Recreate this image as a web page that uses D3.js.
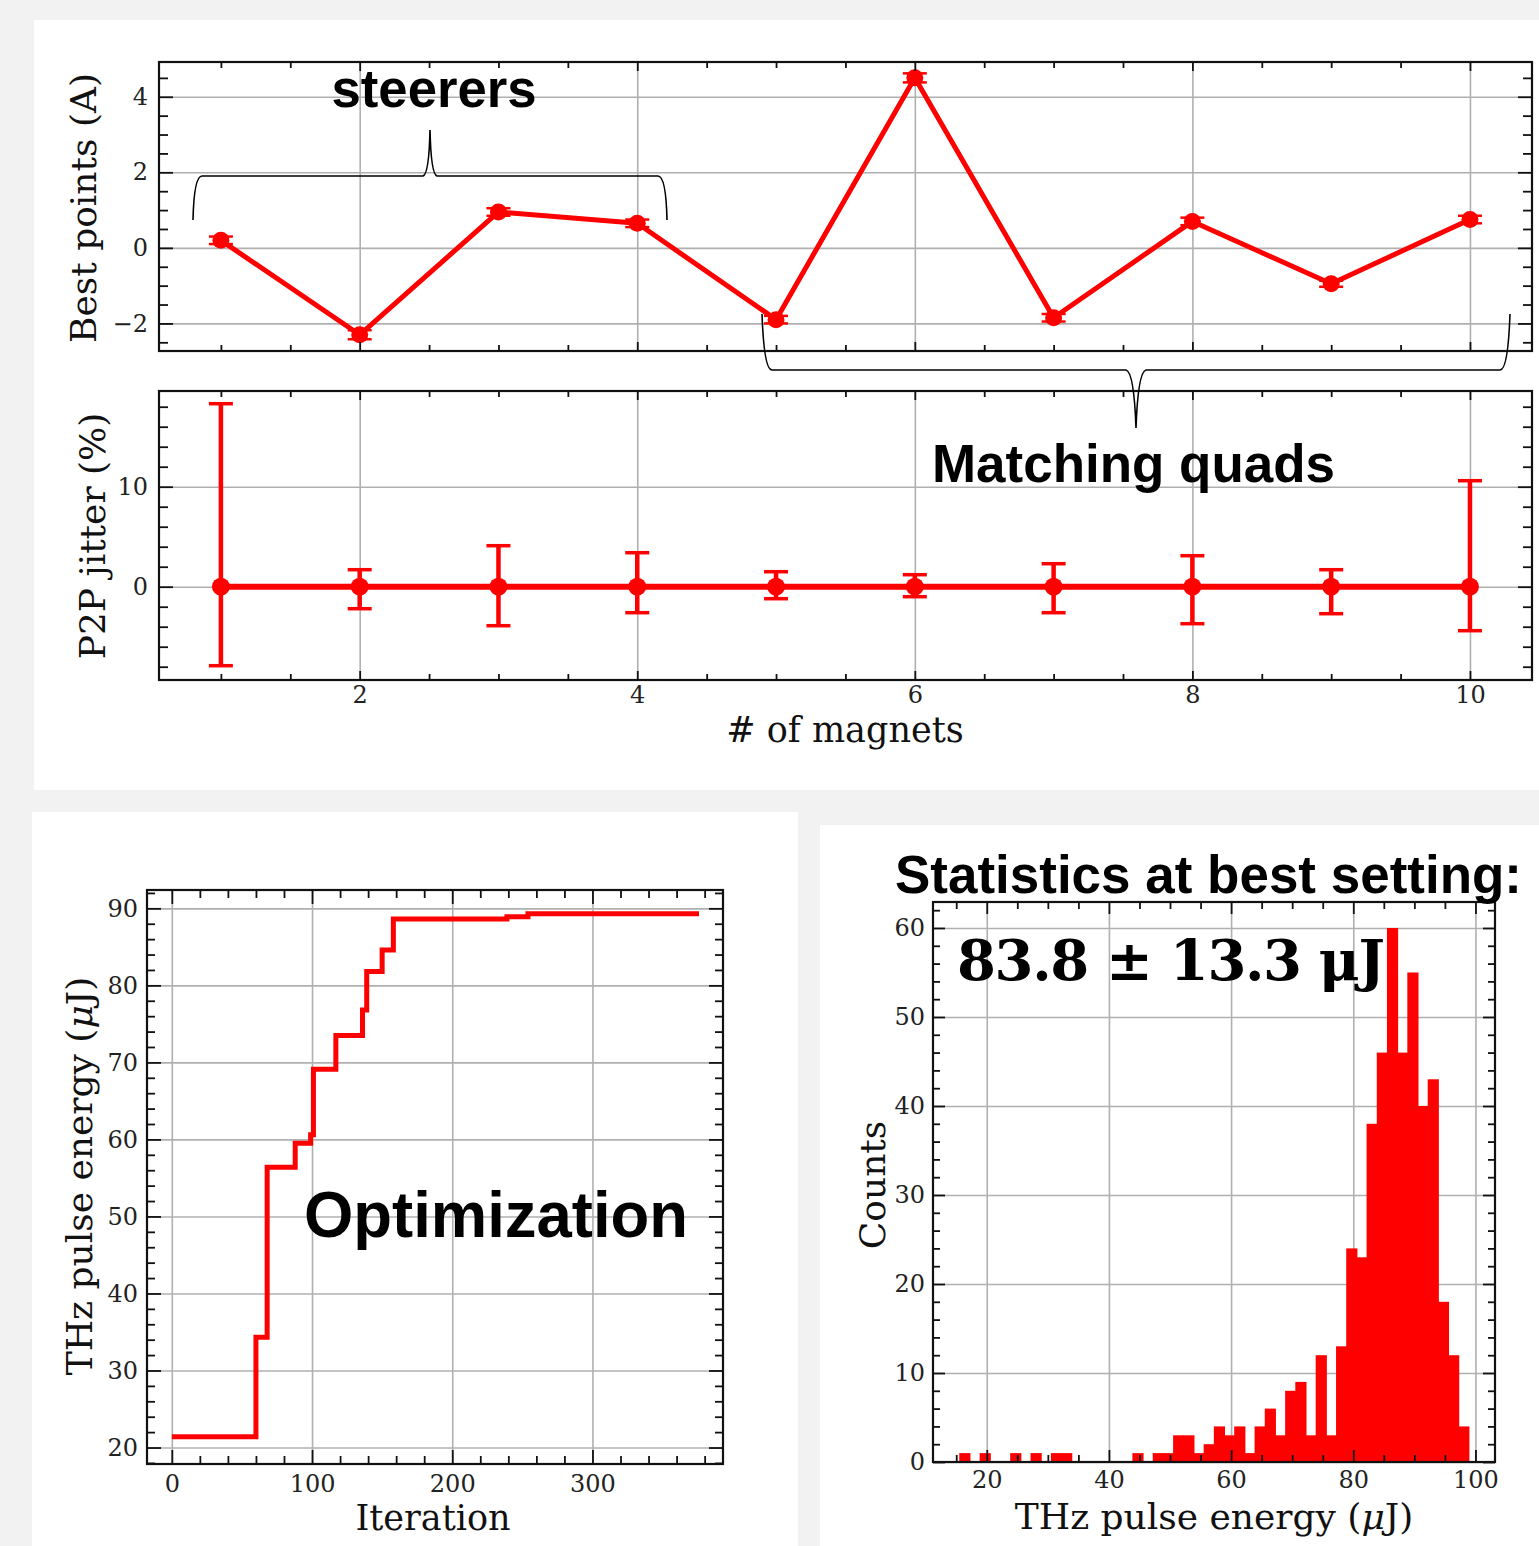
<!DOCTYPE html>
<html>
<head>
<meta charset="utf-8">
<script src="https://cdn.jsdelivr.net/npm/d3@7"></script>
<style>
  body { margin: 0; background: #f2f2f2; }
  svg { display: block; }
</style>
</head>
<body>
<div id="chart"></div>
<script>
// Data: best points per magnet
const magnets = [1, 2, 3, 4, 5, 6, 7, 8, 9, 10];
const bestPoints = [0.2, -2.3, 0.95, 0.65, -1.9, 4.5, -1.85, 0.7, -0.95, 0.75];
const bestPointsErr = [0.1, 0.12, 0.1, 0.1, 0.1, 0.12, 0.1, 0.1, 0.08, 0.1];

// Data: P2P jitter per magnet
const jitter = [0, 0, 0, 0, 0, 0, 0, 0, 0, 0];
const jitterErrUp = [18.3, 1.7, 4.1, 3.4, 1.5, 1.2, 2.3, 3.1, 1.7, 10.6];
const jitterErrDown = [7.9, 2.2, 3.9, 2.6, 1.2, 1.0, 2.6, 3.7, 2.7, 4.4];

// Data: optimization trace (step after)
const iterations = [0, 60, 68, 88, 99, 101, 117, 136, 139, 150, 158, 239, 254, 376];
const pulseEnergy = [21.4, 34.3, 56.4, 59.5, 60.6, 69.1, 73.5, 76.8, 81.8, 84.6, 88.6, 88.9, 89.3, 89.3];

// Data: histogram at best setting (50 equal bins)
const histMin = 15.5;
const histMax = 98.85;
const histCounts = [
  1, 0, 1, 0, 0, 1, 0, 1, 0, 1,
  1, 0, 0, 0, 0, 0, 0, 1, 0, 1,
  1, 3, 3, 1, 2, 4, 3, 4, 1, 4,
  6, 3, 8, 9, 3, 12, 3, 13, 24, 23,
  38, 46, 60, 46, 55, 40, 43, 18, 12, 4,
];

// Tick labels
const magnetTicks = [2, 4, 6, 8, 10];
const bestTicks = [-2, 0, 2, 4];
const jitterTicks = [0, 10];
const iterTicks = [0, 100, 200, 300];
const energyTicks = [20, 30, 40, 50, 60, 70, 80, 90];
const histXTicks = [20, 40, 60, 80, 100];
const histYTicks = [0, 10, 20, 30, 40, 50, 60];

// Styles
const SERIF = "'DejaVu Serif', serif";
const SANS = "'Liberation Sans', Arial, sans-serif";
const RED = "#ff0000";
const GRID = "#b0b0b0";
const INK = "#111";

const W = 1539;
const H = 1546;

const svg = d3
  .select("#chart")
  .append("svg")
  .attr("width", W)
  .attr("height", H);

svg.append("rect").attr("width", W).attr("height", H).attr("fill", "#f2f2f2");

// White panels behind each figure
const panels = [
  [34, 20, 1505, 770],
  [32, 812, 766, 734],
  [820, 825, 719, 721],
];
panels.forEach(([x, y, w, h]) =>
  svg.append("rect").attr("x", x).attr("y", y).attr("width", w).attr("height", h).attr("fill", "#fff"),
);

// Helpers
const minorsOf = (start, stop, step, majors) =>
  d3.range(start, stop + step / 2, step).filter((v) => !majors.some((m) => Math.abs(m - v) < 1e-6));

const addTicks = (g, axisFn, scale, transform, values, size, labelled, pad) => {
  const ax = axisFn(scale)
    .tickValues(values)
    .tickSizeInner(-size)
    .tickSizeOuter(0)
    .tickPadding(pad || 0)
    .tickFormat(labelled ? d3.format("d") : "");
  const sel = g.append("g").attr("transform", transform).call(ax);
  sel.select(".domain").remove();
  sel.selectAll("line").attr("stroke", INK).attr("stroke-width", 1.8);
  sel
    .selectAll("text")
    .attr("font-family", SERIF)
    .attr("font-size", 24)
    .attr("fill", "#222");
  return sel;
};

const addGrid = (g, x, y, w, h, xs, ys) => {
  const gx = g
    .append("g")
    .attr("transform", `translate(0,${h})`)
    .call(d3.axisBottom(x).tickValues(xs).tickSize(-h).tickFormat(""));
  gx.select(".domain").remove();
  gx.selectAll("line").attr("stroke", GRID).attr("stroke-width", 1.6);
  const gy = g.append("g").call(d3.axisLeft(y).tickValues(ys).tickSize(-w).tickFormat(""));
  gy.select(".domain").remove();
  gy.selectAll("line").attr("stroke", GRID).attr("stroke-width", 1.6);
};

// Draws ticks on all four sides, pointing inward, plus the frame
const addFrame = (g, x, y, w, h, c) => {
  addTicks(g, d3.axisBottom, x, `translate(0,${h})`, c.xMajor, c.xLen[0], c.xLabels, c.xPad);
  addTicks(g, d3.axisBottom, x, `translate(0,${h})`, c.xMinor, c.xLen[1], false);
  addTicks(g, d3.axisTop, x, "translate(0,0)", c.xMajor, c.xLen[0], false);
  addTicks(g, d3.axisTop, x, "translate(0,0)", c.xMinor, c.xLen[1], false);
  addTicks(g, d3.axisLeft, y, "translate(0,0)", c.yMajor, c.yLen[0], true, c.yPad);
  addTicks(g, d3.axisLeft, y, "translate(0,0)", c.yMinor, c.yLen[1], false);
  addTicks(g, d3.axisRight, y, `translate(${w},0)`, c.yMajor, c.yLen[0], false);
  addTicks(g, d3.axisRight, y, `translate(${w},0)`, c.yMinor, c.yLen[1], false);
  g.append("rect")
    .attr("width", w)
    .attr("height", h)
    .attr("fill", "none")
    .attr("stroke", INK)
    .attr("stroke-width", 2.2);
};

const addLabel = (x, y, text, rotate, family, size, weight) => {
  const t = svg
    .append("text")
    .attr("transform", `translate(${x},${y})${rotate ? " rotate(-90)" : ""}`)
    .attr("text-anchor", "middle")
    .attr("font-family", family || SERIF)
    .attr("font-size", size || 36)
    .attr("font-weight", weight || "normal")
    .attr("fill", "#111");
  return t.text(text);
};

const addEnergyLabel = (x, y, rotate) => {
  const t = addLabel(x, y, "", rotate);
  t.append("tspan").text("THz pulse energy (");
  t.append("tspan").attr("font-style", "italic").text("μ");
  t.append("tspan").text("J)");
};

// Panel 1: best points
const drawBestPoints = () => {
  const b = { x0: 159, x1: 1532, y0: 62, y1: 351 };
  const w = b.x1 - b.x0;
  const h = b.y1 - b.y0;
  const x = d3.scaleLinear().domain([0.554, 10.447]).range([0, w]);
  const y = d3.scaleLinear().domain([-2.73, 4.92]).range([h, 0]);
  const g = svg.append("g").attr("transform", `translate(${b.x0},${b.y0})`);

  addGrid(g, x, y, w, h, magnetTicks, bestTicks);

  const line = d3
    .line()
    .x((d, i) => x(magnets[i]))
    .y((d) => y(d));
  g.append("path")
    .datum(bestPoints)
    .attr("d", line)
    .attr("fill", "none")
    .attr("stroke", RED)
    .attr("stroke-width", 5)
    .attr("stroke-linejoin", "round");

  const pts = g.append("g").selectAll("g").data(bestPoints).join("g");
  pts
    .append("line")
    .attr("x1", (d, i) => x(magnets[i]))
    .attr("x2", (d, i) => x(magnets[i]))
    .attr("y1", (d, i) => y(d + bestPointsErr[i]))
    .attr("y2", (d, i) => y(d - bestPointsErr[i]))
    .attr("stroke", RED)
    .attr("stroke-width", 4);
  [1, -1].forEach((s) =>
    pts
      .append("line")
      .attr("x1", (d, i) => x(magnets[i]) - 12)
      .attr("x2", (d, i) => x(magnets[i]) + 12)
      .attr("y1", (d, i) => y(d + s * bestPointsErr[i]))
      .attr("y2", (d, i) => y(d + s * bestPointsErr[i]))
      .attr("stroke", RED)
      .attr("stroke-width", 2.5),
  );
  pts
    .append("circle")
    .attr("cx", (d, i) => x(magnets[i]))
    .attr("cy", (d) => y(d))
    .attr("r", 8.5)
    .attr("fill", RED);

  addFrame(g, x, y, w, h, {
    xMajor: magnetTicks,
    xMinor: minorsOf(1, 10, 0.5, magnetTicks),
    xLen: [9, 6],
    xLabels: false,
    yMajor: bestTicks,
    yMinor: minorsOf(-2.5, 4.5, 0.5, bestTicks),
    yLen: [14, 9],
    yPad: 11,
  });

  addLabel(96, 208, "Best points (A)", true);
};

// Panel 2: P2P jitter
const drawJitter = () => {
  const b = { x0: 159, x1: 1532, y0: 391, y1: 680 };
  const w = b.x1 - b.x0;
  const h = b.y1 - b.y0;
  const x = d3.scaleLinear().domain([0.554, 10.447]).range([0, w]);
  const y = d3.scaleLinear().domain([-9.33, 19.57]).range([h, 0]);
  const g = svg.append("g").attr("transform", `translate(${b.x0},${b.y0})`);

  addGrid(g, x, y, w, h, magnetTicks, jitterTicks);

  const line = d3
    .line()
    .x((d, i) => x(magnets[i]))
    .y((d) => y(d));
  g.append("path")
    .datum(jitter)
    .attr("d", line)
    .attr("fill", "none")
    .attr("stroke", RED)
    .attr("stroke-width", 6);

  const pts = g.append("g").selectAll("g").data(jitter).join("g");
  pts
    .append("line")
    .attr("x1", (d, i) => x(magnets[i]))
    .attr("x2", (d, i) => x(magnets[i]))
    .attr("y1", (d, i) => y(d + jitterErrUp[i]))
    .attr("y2", (d, i) => y(d - jitterErrDown[i]))
    .attr("stroke", RED)
    .attr("stroke-width", 4.5);
  [jitterErrUp, jitterErrDown.map((v) => -v)].forEach((errs) =>
    pts
      .append("line")
      .attr("x1", (d, i) => x(magnets[i]) - 12)
      .attr("x2", (d, i) => x(magnets[i]) + 12)
      .attr("y1", (d, i) => y(d + errs[i]))
      .attr("y2", (d, i) => y(d + errs[i]))
      .attr("stroke", RED)
      .attr("stroke-width", 3.5),
  );
  pts
    .append("circle")
    .attr("cx", (d, i) => x(magnets[i]))
    .attr("cy", (d) => y(d))
    .attr("r", 9)
    .attr("fill", RED);

  addFrame(g, x, y, w, h, {
    xMajor: magnetTicks,
    xMinor: minorsOf(1, 10, 0.5, magnetTicks),
    xLen: [9, 6],
    xLabels: true,
    xPad: 6,
    yMajor: jitterTicks,
    yMinor: minorsOf(-8, 18, 2, jitterTicks),
    yLen: [14, 9],
    yPad: 11,
  });

  addLabel(105, 536, "P2P jitter (%)", true);
  addLabel(845, 742, "# of magnets", false, SERIF, 35);
};

// Panel 3: optimization trace
const drawOptimization = () => {
  const b = { x0: 147, x1: 723, y0: 890, y1: 1464 };
  const w = b.x1 - b.x0;
  const h = b.y1 - b.y0;
  const x = d3.scaleLinear().domain([-17.7, 393.1]).range([0, w]);
  const y = d3.scaleLinear().domain([17.86, 92.38]).range([h, 0]);
  const g = svg.append("g").attr("transform", `translate(${b.x0},${b.y0})`);

  addGrid(g, x, y, w, h, iterTicks, energyTicks);

  const line = d3
    .line()
    .x((d, i) => x(iterations[i]))
    .y((d) => y(d))
    .curve(d3.curveStepAfter);
  g.append("path")
    .datum(pulseEnergy)
    .attr("d", line)
    .attr("fill", "none")
    .attr("stroke", RED)
    .attr("stroke-width", 5);

  addFrame(g, x, y, w, h, {
    xMajor: iterTicks,
    xMinor: minorsOf(0, 380, 20, iterTicks),
    xLen: [14, 8],
    xLabels: true,
    xPad: 11,
    yMajor: energyTicks,
    yMinor: minorsOf(18, 92, 2, energyTicks),
    yLen: [14, 8],
    yPad: 9,
  });

  addEnergyLabel(92, 1176, true);
  addLabel(433, 1530, "Iteration", false, SERIF, 35);
  svg
    .append("text")
    .attr("x", 304)
    .attr("y", 1237)
    .attr("font-family", SANS)
    .attr("font-weight", "bold")
    .attr("font-size", 64)
    .attr("textLength", 384)
    .attr("lengthAdjust", "spacingAndGlyphs")
    .attr("fill", "#000")
    .text("Optimization");
};

// Panel 4: histogram
const drawHistogram = () => {
  const b = { x0: 933, x1: 1495, y0: 902, y1: 1462 };
  const w = b.x1 - b.x0;
  const h = b.y1 - b.y0;
  const x = d3.scaleLinear().domain([11.2, 103.2]).range([0, w]);
  const y = d3.scaleLinear().domain([0, 62.92]).range([h, 0]);
  const g = svg.append("g").attr("transform", `translate(${b.x0},${b.y0})`);

  addGrid(g, x, y, w, h, histXTicks, histYTicks);

  const binWidth = (histMax - histMin) / histCounts.length;
  g.append("g")
    .selectAll("rect")
    .data(histCounts)
    .join("rect")
    .attr("x", (d, i) => x(histMin + i * binWidth))
    .attr("width", (d, i) => x(histMin + (i + 1) * binWidth) - x(histMin + i * binWidth) + 1)
    .attr("y", (d) => y(d))
    .attr("height", (d) => y(0) - y(d))
    .attr("fill", RED);

  addFrame(g, x, y, w, h, {
    xMajor: histXTicks,
    xMinor: minorsOf(15, 100, 5, histXTicks),
    xLen: [12, 7],
    xLabels: true,
    xPad: 9,
    yMajor: histYTicks,
    yMinor: minorsOf(2, 62, 2, histYTicks),
    yLen: [12, 7],
    yPad: 8,
  });

  addLabel(885, 1185, "Counts", true);
  addEnergyLabel(1214, 1529, false);

  svg
    .append("text")
    .attr("x", 957)
    .attr("y", 980)
    .attr("font-family", SERIF)
    .attr("font-weight", "bold")
    .attr("font-size", 56)
    .attr("textLength", 428)
    .attr("lengthAdjust", "spacing")
    .attr("fill", "#000")
    .text("83.8 ± 13.3 μJ");

  svg
    .append("text")
    .attr("x", 895)
    .attr("y", 893)
    .attr("font-family", SANS)
    .attr("font-weight", "bold")
    .attr("font-size", 53)
    .attr("textLength", 627)
    .attr("lengthAdjust", "spacingAndGlyphs")
    .attr("fill", "#000")
    .text("Statistics at best setting:");
};

// Annotations: braces and group names
const drawAnnotations = () => {
  const braces = [
    "M193,220 Q194,176 202,176 L423,176 Q429,174 430,130 Q431,174 437,176 L658,176 Q666,176 667,220",
    "M762,314 Q764,370 772,370 L1126,370 Q1134,372 1136,428 Q1138,372 1146,370 L1500,370 Q1508,370 1510,314",
  ];
  braces.forEach((d) =>
    svg.append("path").attr("d", d).attr("fill", "none").attr("stroke", "#000").attr("stroke-width", 1.6),
  );

  svg
    .append("text")
    .attr("x", 434)
    .attr("y", 107)
    .attr("text-anchor", "middle")
    .attr("font-family", SANS)
    .attr("font-weight", "bold")
    .attr("font-size", 53)
    .attr("textLength", 205)
    .attr("lengthAdjust", "spacingAndGlyphs")
    .text("steerers");

  svg
    .append("text")
    .attr("x", 932)
    .attr("y", 482)
    .attr("font-family", SANS)
    .attr("font-weight", "bold")
    .attr("font-size", 53)
    .attr("textLength", 403)
    .attr("lengthAdjust", "spacingAndGlyphs")
    .text("Matching quads");
};

drawBestPoints();
drawJitter();
drawOptimization();
drawHistogram();
drawAnnotations();
</script>
</body>
</html>
